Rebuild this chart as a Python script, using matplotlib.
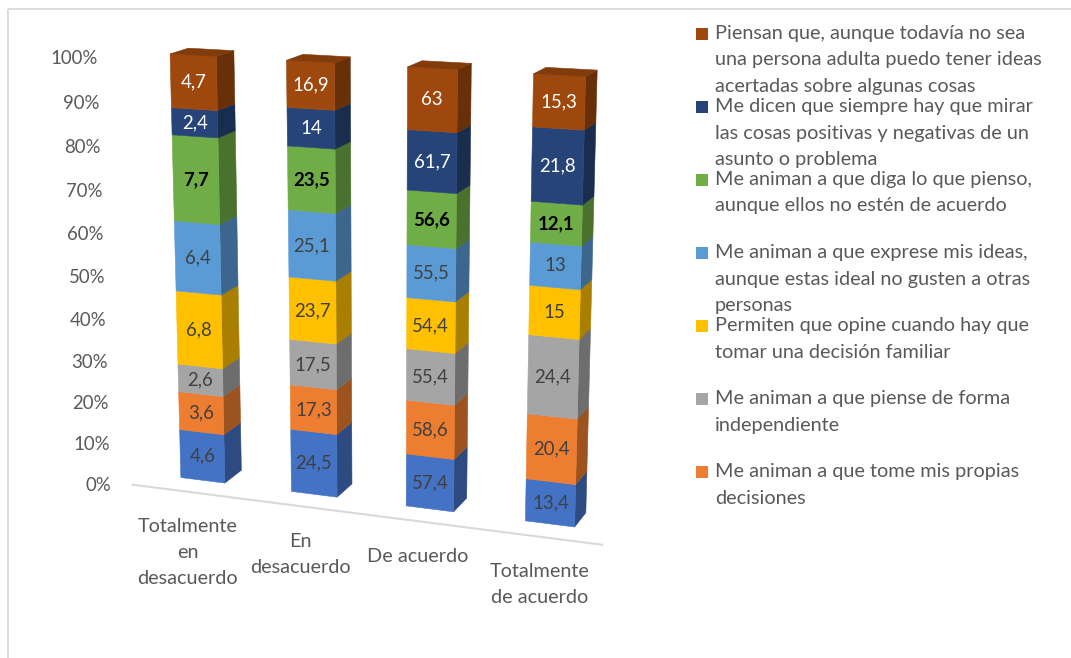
import numpy as np
import matplotlib.pyplot as plt
from matplotlib.patches import Polygon, Rectangle
import matplotlib.colors as mcolors

plt.rcParams['font.family'] = ['Lato', 'DejaVu Sans']

# categories (one list of lines per tick label)
categories = [['Totalmente', 'en', 'desacuerdo'],
              ['En', 'desacuerdo'],
              ['De acuerdo'],
              ['Totalmente', 'de acuerdo']]

# series, bottom of the stack to top
s_blue = [4.6, 24.5, 57.4, 13.4]
s_orange = [3.6, 17.3, 58.6, 20.4]
s_gray = [2.6, 17.5, 55.4, 24.4]
s_yellow = [6.8, 23.7, 54.4, 15]
s_lblue = [6.4, 25.1, 55.5, 13]
s_green = [7.7, 23.5, 56.6, 12.1]
s_dblue = [2.4, 14, 61.7, 21.8]
s_brown = [4.7, 16.9, 63, 15.3]
series = [s_blue, s_orange, s_gray, s_yellow, s_lblue, s_green, s_dblue, s_brown]

series_names = [
    '',
    'Me animan a que tome mis propias\ndecisiones',
    'Me animan a que piense de forma\nindependiente',
    'Permiten que opine cuando hay que\ntomar una decisión familiar',
    'Me animan a que exprese mis ideas,\naunque estas ideal no gusten a otras\npersonas',
    'Me animan a que diga lo que pienso,\naunque ellos no estén de acuerdo',
    'Me dicen que siempre hay que mirar\nlas cosas positivas y negativas de un\nasunto o problema',
    'Piensan que, aunque todavía no sea\nuna persona adulta puedo tener ideas\nacertadas sobre algunas cosas',
]
colors = ['#4472C4', '#ED7D31', '#A5A5A5', '#FFC000',
          '#5B9BD5', '#70AD47', '#264478', '#9E480E']
lab_colors = ['#404040', '#404040', '#404040', '#404040',
              '#404040', 'black', 'white', 'white']
lab_bold = [False, False, False, False, False, True, False, False]

yticks = np.arange(0, 101, 10)

TXT = '#595959'
FS_TICK = 13.4
FS_VAL = 13.4
FS_CAT = 14.3
FS_LEG = 14.3

# 3d box geometry (world units, bar height = 100)
spacing = 28.1
bw = 11.3
bd = 9.6
floor_y = -8.4

# camera
yaw = np.radians(20)
pitch = np.radians(15)
fwd = np.array([-np.sin(yaw) * np.cos(pitch), np.cos(yaw) * np.cos(pitch), -np.sin(pitch)])
rgt = np.array([np.cos(yaw), np.sin(yaw), 0.0])
upv = np.array([-np.sin(pitch) * np.sin(yaw), np.sin(pitch) * np.cos(yaw), np.cos(pitch)])
eye = np.array([162.0, -437.4, 170.4])
focal = 2170.0
cx, cy = 383.0, 309.0


def proj(x, y, z):
    r = np.array([x, y, z]) - eye
    zc = r @ fwd
    return cx + focal * (r @ rgt) / zc, cy - focal * (r @ upv) / zc


def shade(c, f):
    return tuple(np.array(mcolors.to_rgb(c)) * f)


def face(ax, pts, col):
    xy = [proj(*p) for p in pts]
    ax.add_patch(Polygon(xy, closed=True, facecolor=col, edgecolor=col, lw=0.4))


def fmt(v):
    return ('%g' % v).replace('.', ',')


fig = plt.figure(figsize=(10.71, 6.58), dpi=100)
ax = fig.add_axes([0, 0, 1, 1])
ax.set_xlim(0, 1071)
ax.set_ylim(658, 0)
ax.axis('off')

# chart border
ax.add_patch(Rectangle((7.5, 8.5), 1200, 800, fill=False, ec='#D9D9D9', lw=1.3))

ncat = len(categories)
xs = spacing * (np.arange(ncat) - (ncat - 1) / 2)

# floor edge
x0, y0 = proj(-spacing * ncat / 2, floor_y, 0)
x1, y1 = proj(spacing * ncat / 2, floor_y, 0)
ax.plot([x0, x1], [y0, y1], color='#D9D9D9', lw=1.5)

# value axis labels
for t in yticks:
    u, v = proj(-spacing * ncat / 2, floor_y, t)
    ax.text(u - 21, v + 1, '%d%%' % t, ha='right', va='center', fontsize=FS_TICK, color=TXT)

data = np.array(series, dtype=float)
tot = data.sum(axis=0)

for i in range(ncat):
    xl = xs[i] - bw / 2
    xr = xs[i] + bw / 2
    cum = 0.0
    for k in range(len(series)):
        z0 = cum / tot[i] * 100
        cum += data[k, i]
        z1 = cum / tot[i] * 100
        face(ax, [(xr, 0, z0), (xr, bd, z0), (xr, bd, z1), (xr, 0, z1)], shade(colors[k], 0.66))
        face(ax, [(xl, 0, z0), (xr, 0, z0), (xr, 0, z1), (xl, 0, z1)], colors[k])
        u, v = proj(xs[i], 0, (z0 + z1) / 2)
        ax.text(u, v, fmt(series[k][i]), ha='center', va='center', fontsize=FS_VAL,
                color=lab_colors[k], fontweight='bold' if lab_bold[k] else 'normal')
    face(ax, [(xl, 0, 100), (xr, 0, 100), (xr, bd, 100), (xl, bd, 100)], shade(colors[-1], 0.82))

    # category label
    u, v = proj(xs[i], floor_y, 0)
    for j, line in enumerate(categories[i]):
        ax.text(u, v + 35 + 26 * j, line, ha='center', va='center', fontsize=FS_CAT, color=TXT)

# legend, top entry = top of the stack
order = [k for k in range(len(series) - 1, -1, -1) if series_names[k]]
for n, k in enumerate(order):
    ytop = 33.5 + 73 * n
    ax.add_patch(Rectangle((696, ytop - 5.5), 11.5, 11.5, fc=colors[k], ec='none'))
    for j, line in enumerate(series_names[k].split('\n')):
        ax.text(715, ytop + 26.5 * j, line, ha='left', va='center', fontsize=FS_LEG, color=TXT)

fig.savefig('out.png', dpi=100)
